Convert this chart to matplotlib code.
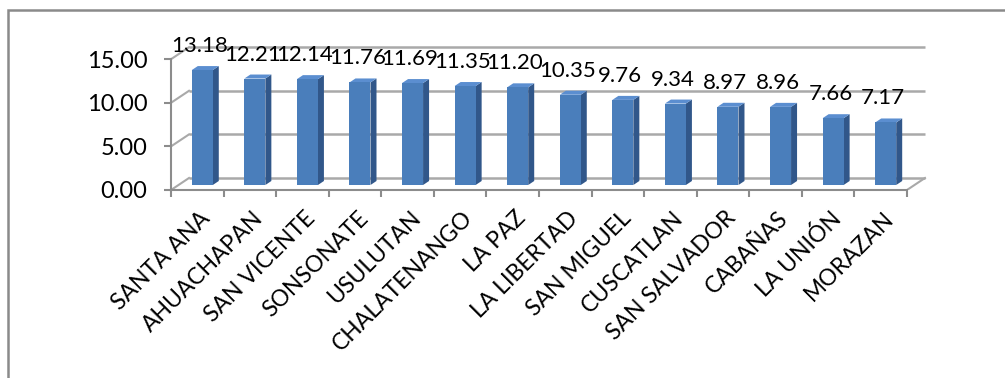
import numpy as np
import matplotlib.pyplot as plt
from matplotlib.patches import Polygon, Rectangle

# Departamentos y valores
departamentos = ['SANTA ANA', 'AHUACHAPAN', 'SAN VICENTE', 'SONSONATE', 'USULUTAN',
                 'CHALATENANGO', 'LA PAZ', 'LA LIBERTAD', 'SAN MIGUEL', 'CUSCATLAN',
                 'SAN SALVADOR', 'CABAÑAS', 'LA UNIÓN', 'MORAZAN']
valores = [13.18, 12.21, 12.14, 11.76, 11.69, 11.35, 11.20, 10.35, 9.76, 9.34,
           8.97, 8.96, 7.66, 7.17]
marcas_y = [0, 5, 10, 15]

plt.rcParams['font.family'] = ['Lato', 'DejaVu Sans']

W, H = 1005, 378
fig = plt.figure(figsize=(W / 100, H / 100), dpi=100)

# escala en pixeles por unidad
px_x = 52.57
px_y = 8.72
x0_px, y0_px = 171, 190          # esquina frontal (x=-0.5, y=0)
ax_right, ax_top = 960, 25
ax = fig.add_axes([x0_px / W, (H - y0_px) / H, (ax_right - x0_px) / W, (y0_px - ax_top) / H])
n = len(departamentos)
x = np.arange(n)
ax.set_xlim(-0.5, -0.5 + (ax_right - x0_px) / px_x)
ax.set_ylim(0, (y0_px - ax_top) / px_y)

ux, uy = 1 / px_x, 1 / px_y
prof_x, prof_y = 18 * ux, 12 * uy      # profundidad de la pared del fondo
grid_c = '#a9a9a9'

# pared del fondo y pared izquierda
for v in marcas_y:
    ax.plot([-0.5 + prof_x, n - 0.5 + prof_x], [v + prof_y, v + prof_y],
            color=grid_c, lw=1.8, zorder=1, solid_capstyle='butt')
    ax.plot([-0.5, -0.5 + prof_x], [v, v + prof_y], color=grid_c, lw=1.5, zorder=1)
ax.plot([n - 0.5, n - 0.5 + prof_x], [0, prof_y], color=grid_c, lw=1.5, zorder=1)

# columnas 3D
ancho = 21 * ux
desp = 5 * ux
base = 5 * uy
lado_x, lado_y = 6 * ux, 4 * uy
for xi, v in zip(x, valores):
    xl = xi + desp - ancho / 2
    xr = xi + desp + ancho / 2
    top = base + v
    ax.add_patch(Polygon([(xr, base), (xr + lado_x, base + lado_y),
                          (xr + lado_x, top + lado_y), (xr, top)],
                         closed=True, facecolor='#31578a', edgecolor='none', zorder=3))
    ax.add_patch(Polygon([(xl, top), (xr, top), (xr + lado_x, top + lado_y),
                          (xl + lado_x, top + lado_y)],
                         closed=True, facecolor='#5b8ed0', edgecolor='none', zorder=3))
    ax.bar(xi + desp, v, width=ancho, bottom=base, color='#4a7ebb', zorder=4)
    ax.text(xi + desp - 0.05, top + 18 * uy, f'{v:.2f}', ha='center', va='baseline',
            fontsize=16, color='black', zorder=6)

# ejes frontales
ax.spines['top'].set_visible(False)
ax.spines['right'].set_visible(False)
ax.spines['left'].set_bounds(0, 15)
ax.spines['bottom'].set_bounds(-0.5, n - 0.5)
for s in ('left', 'bottom'):
    ax.spines[s].set_color('#8c8c8c')
    ax.spines[s].set_linewidth(1.5)

ax.set_yticks(marcas_y)
ax.set_yticklabels([f'{v:.2f}' for v in marcas_y], fontsize=17)
ax.tick_params(axis='y', length=5, width=1.5, color='#8c8c8c', pad=12)

ax.set_xticks(np.arange(n + 1) - 0.5)
ax.set_xticklabels([])
ax.tick_params(axis='x', length=5, width=1.5, color='#8c8c8c', direction='out')
for xi, nombre in zip(x, departamentos):
    ax.text(xi + 0.04, -2.0, nombre, rotation=45, ha='right', va='top',
            rotation_mode='anchor', fontsize=16.5, color='black')

# marco del grafico
fig.add_artist(Rectangle((8 / W, -0.1), 1.2, (H - 10) / H + 0.1, transform=fig.transFigure,
                         fill=False, edgecolor='#8a8a8a', lw=1.8))

fig.savefig('out.png', dpi=100)
